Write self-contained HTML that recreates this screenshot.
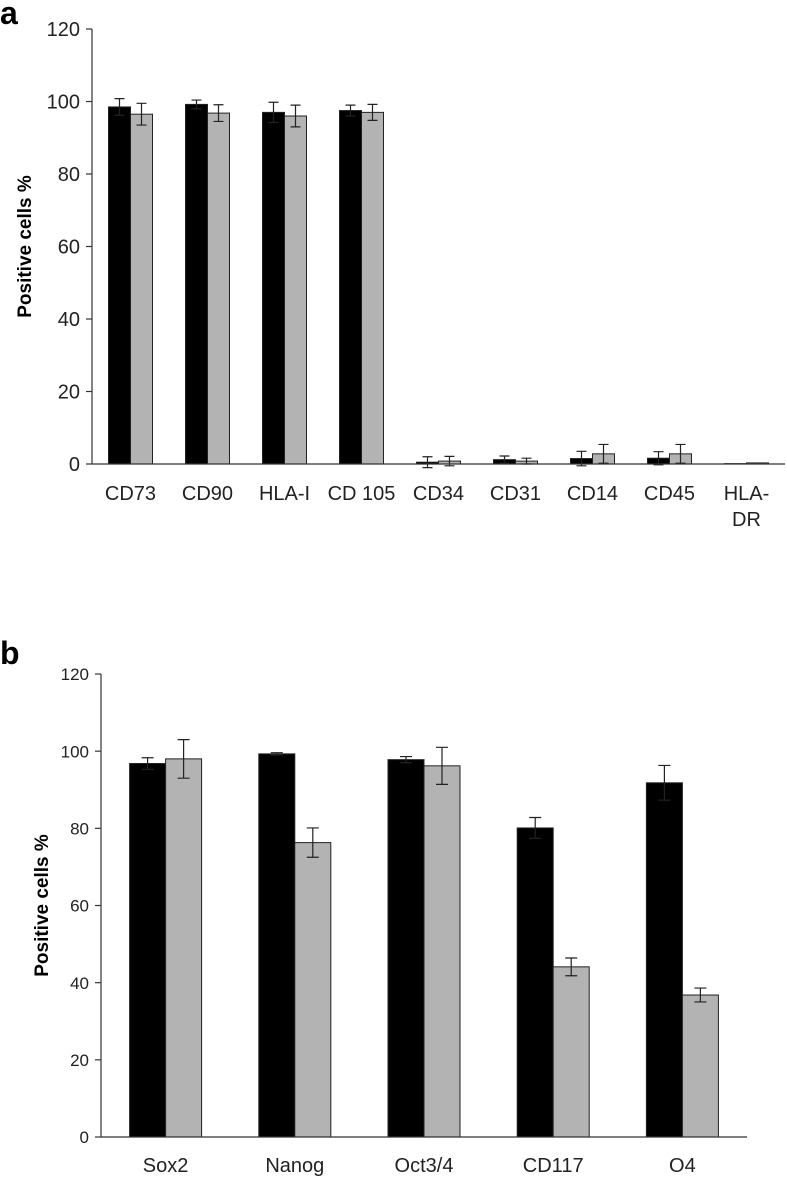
<!DOCTYPE html>
<html><head><meta charset="utf-8"><style>
html,body{margin:0;padding:0;background:#fff;}
svg{display:block;font-family:"Liberation Sans",Arial,sans-serif;}
</style></head><body>
<svg id="s" width="787" height="1180" viewBox="0 0 787 1180">
<text x="0" y="24" font-size="32" font-weight="bold">a</text>
<text x="0" y="664" font-size="32" font-weight="bold">b</text>
</svg>
<script>
// Panel a data
const catsA = ["CD73","CD90","HLA-I","CD 105","CD34","CD31","CD14","CD45","HLA-|DR"];
const blackA = [98.5,99.2,97,97.5,0.5,1.2,1.5,1.6,0.1];
const blackErrA = [2.3,1.2,2.8,1.5,1.5,1,2,1.8,0];
const grayA = [96.5,96.8,96,97,0.8,0.8,2.8,2.8,0.3];
const grayErrA = [3,2.3,3,2.2,1.3,0.8,2.6,2.6,0];
const ticksA = [0,20,40,60,80,100,120];
// Panel b data
const catsB = ["Sox2","Nanog","Oct3/4","CD117","O4"];
const blackB = [96.8,99.3,97.8,80.1,91.8];
const blackErrB = [1.5,0.3,0.8,2.7,4.5];
const grayB = [98,76.3,96.2,44.1,36.8];
const grayErrB = [5,3.8,4.8,2.3,1.8];
const ticksB = [0,20,40,60,80,100,120];

const NS="http://www.w3.org/2000/svg";
const svg=document.getElementById('s');
function mk(t,a,p){const e=document.createElementNS(NS,t);for(const k in a)e.setAttribute(k,a[k]);(p||svg).appendChild(e);return e;}

function chart(o){
  const g=mk('g',{});
  
  
  const y=v=>o.y0-(v/120)*(o.y0-o.y120);
  const cw=(o.x1-o.x0)/o.cats.length;
  const ax=mk('line',{x1:o.x0,y1:o.y120,x2:o.x0,y2:o.y0,stroke:'#333','stroke-width':1.2},g);
  
  
  o.ticks.forEach(t=>{
    const l=mk('line',{x1:o.x0-6,y1:y(t),x2:o.x0,y2:y(t),stroke:'#333','stroke-width':1.2},g);
    
    
    const tx=mk('text',{x:o.x0-12,y:y(t)+o.tfs*0.36,'font-size':o.tfs,'text-anchor':'end',fill:'#222'},g);
    tx.textContent=t;
    
    
  });
  const tt=mk('text',{transform:`translate(${o.titleX},${(o.y0+o.y120)/2}) rotate(-90)`,'font-size':o.titleFs,'font-weight':'bold','text-anchor':'middle'},g);
  tt.textContent='Positive cells %';
  
  
  o.cats.forEach((c,i)=>{
    const cx=o.x0+cw*(i+0.5);
    [[o.black[i],o.berr[i],'#000',cx-o.bw],[o.gray[i],o.gerr[i],'#b3b3b3',cx]].forEach((s,j)=>{
      const r=mk('rect',{x:s[3],y:y(s[0]),width:o.bw,height:o.y0-y(s[0]),fill:s[2],stroke:'#222','stroke-width':1},g);
      
      
      if(s[1]>0){
        const ex=s[3]+o.bw/2, hw=o.cap/2;
        const e=mk('path',{d:`M${ex},${y(s[0]-s[1])}V${y(s[0]+s[1])}M${ex-hw},${y(s[0]+s[1])}H${ex+hw}M${ex-hw},${y(s[0]-s[1])}H${ex+hw}`,stroke:'#222','stroke-width':1.2,fill:'none'},g);
        
        
      }
    });
    const lines=c.split('|');
    lines.forEach((ln,k)=>{
      const t=mk('text',{x:cx,y:o.labY+k*o.cfs*1.3,'font-size':o.cfs,'text-anchor':'middle',fill:'#222'},g);
      t.textContent=ln;
      
      
    });
  });
  const xa=mk('line',{x1:o.x0,y1:o.y0,x2:o.x1,y2:o.y0,stroke:'#333','stroke-width':1.2},g);
  
  
}
chart({name:'chart-a',cats:catsA,black:blackA,berr:blackErrA,gray:grayA,gerr:grayErrA,ticks:ticksA,
  x0:92,x1:785,y0:464,y120:29,bw:22,cap:10,tfs:20,cfs:20,labY:500,titleX:31,titleFs:19});
chart({name:'chart-b',cats:catsB,black:blackB,berr:blackErrB,gray:grayB,gerr:grayErrB,ticks:ticksB,
  x0:101,x1:747,y0:1137,y120:674,bw:36,cap:12,tfs:17,cfs:20,labY:1172,titleX:48,titleFs:19});
</script>
</body></html>
